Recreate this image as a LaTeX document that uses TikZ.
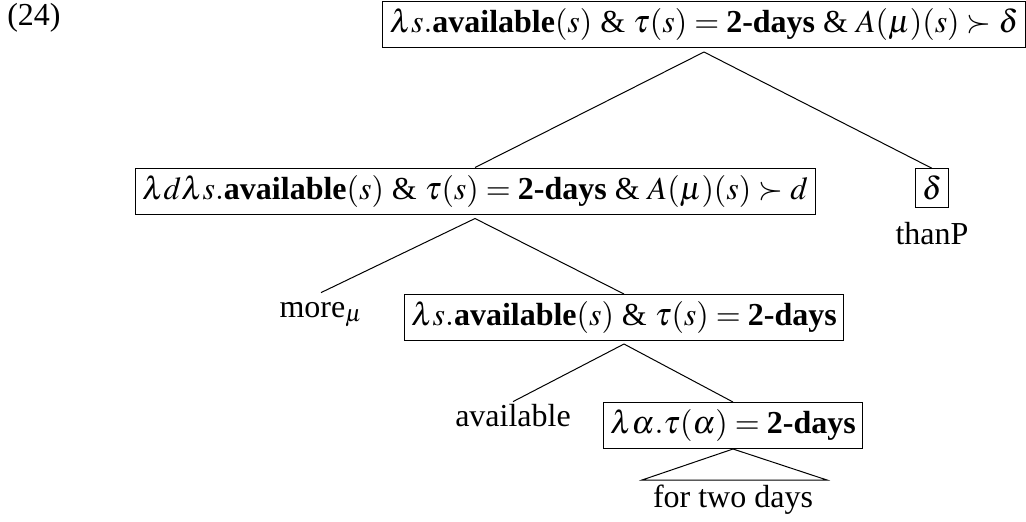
\documentclass[tikz,border=0pt]{standalone}
\usepackage{mathptmx}
\usepackage{fontspec}
\setmainfont{Liberation Serif}
\begin{document}
\begin{tikzpicture}[x=0.5pt,y=-0.5pt,
  lbl/.style={inner sep=1pt, anchor=base, text height=11pt, text depth=3pt, font=\fontsize{16}{19}\selectfont},
  sem/.style={draw, line width=0.5pt, inner sep=3.5pt, font=\fontsize{16}{19}\selectfont},
  edge/.style={line width=0.5pt}]
\useasboundingbox (0,0) rectangle (1026,521);
\node[lbl] (n24) at (34,25) {(24)};
\node[sem] (top) at (704,24.5) {$\lambda s.\textbf{available}(s)$ \& $\tau(s)=\textbf{2-days}$ \& $A(\mu)(s)\succ\delta$};
\node[sem] (mid) at (475,191) {$\lambda d\lambda s.\textbf{available}(s)$ \& $\tau(s)=\textbf{2-days}$ \& $A(\mu)(s)\succ d$};
\node[sem] (dlt) at (932,188) {$\delta$};
\node[lbl] (thanp) at (932,244) {thanP};
\node[lbl] (more) at (321,317) {more$_\mu$};
\node[sem] (b3) at (624,317.5) {$\lambda s.\textbf{available}(s)$ \& $\tau(s)=\textbf{2-days}$};
\node[lbl] (avail) at (513,426) {available};
\node[sem] (b4) at (733,425.5) {$\lambda\alpha.\tau(\alpha)=\textbf{2-days}$};
\node[lbl] (ftd) at (733,507) {for two days};
\coordinate (tl) at (642,480);
\coordinate (tr) at (827,480);
\draw[edge] ([yshift=-2pt]top.south) -- (mid.north);
\draw[edge] ([yshift=-2pt]top.south) -- (dlt.north);
\draw[edge] ([yshift=-2pt]mid.south) -- (more.north);
\draw[edge] ([yshift=-2pt]mid.south) -- (b3.north);
\draw[edge] ([yshift=-1.5pt]b3.south) -- (avail.north);
\draw[edge] ([yshift=-1.5pt]b3.south) -- (b4.north);
\draw[edge] (tl) -- (b4.south) -- (tr) -- cycle;
\end{tikzpicture}
\end{document}
